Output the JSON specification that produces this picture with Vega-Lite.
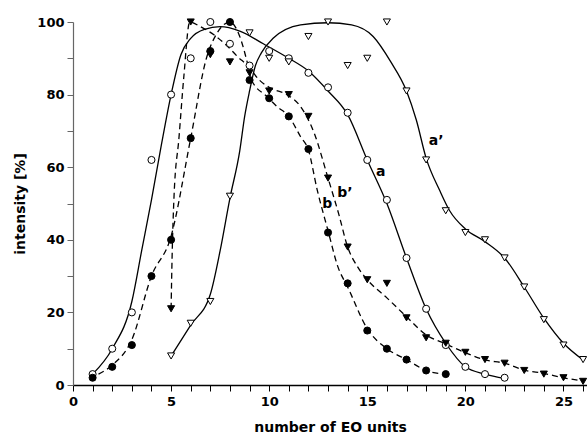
{
  "$schema": "https://vega.github.io/schema/vega-lite/v6.json",
  "width": 514,
  "height": 363,
  "autosize": "none",
  "padding": {"left": 73, "top": 22, "right": 0, "bottom": 50},
  "config": {"view": {"stroke": null}, "font": "DejaVu Sans"},
  "datasets": {
    "points": [
      {"series": "a", "x": 1, "y": 3}, {"series": "a", "x": 2, "y": 10}, {"series": "a", "x": 3, "y": 20}, {"series": "a", "x": 4, "y": 62},
      {"series": "a", "x": 5, "y": 80}, {"series": "a", "x": 6, "y": 90}, {"series": "a", "x": 7, "y": 100}, {"series": "a", "x": 8, "y": 94},
      {"series": "a", "x": 9, "y": 88}, {"series": "a", "x": 10, "y": 92}, {"series": "a", "x": 11, "y": 90}, {"series": "a", "x": 12, "y": 86},
      {"series": "a", "x": 13, "y": 82}, {"series": "a", "x": 14, "y": 75}, {"series": "a", "x": 15, "y": 62}, {"series": "a", "x": 16, "y": 51},
      {"series": "a", "x": 17, "y": 35}, {"series": "a", "x": 18, "y": 21}, {"series": "a", "x": 19, "y": 11}, {"series": "a", "x": 20, "y": 5},
      {"series": "a", "x": 21, "y": 3}, {"series": "a", "x": 22, "y": 2},
      {"series": "a'", "x": 5, "y": 8}, {"series": "a'", "x": 6, "y": 17}, {"series": "a'", "x": 7, "y": 23}, {"series": "a'", "x": 8, "y": 52},
      {"series": "a'", "x": 9, "y": 97}, {"series": "a'", "x": 10, "y": 90}, {"series": "a'", "x": 11, "y": 89}, {"series": "a'", "x": 12, "y": 96},
      {"series": "a'", "x": 13, "y": 100}, {"series": "a'", "x": 14, "y": 88}, {"series": "a'", "x": 15, "y": 90}, {"series": "a'", "x": 16, "y": 100},
      {"series": "a'", "x": 17, "y": 81}, {"series": "a'", "x": 18, "y": 62}, {"series": "a'", "x": 19, "y": 48}, {"series": "a'", "x": 20, "y": 42},
      {"series": "a'", "x": 21, "y": 40}, {"series": "a'", "x": 22, "y": 35}, {"series": "a'", "x": 23, "y": 27}, {"series": "a'", "x": 24, "y": 18},
      {"series": "a'", "x": 25, "y": 11}, {"series": "a'", "x": 26, "y": 7},
      {"series": "b", "x": 1, "y": 2}, {"series": "b", "x": 2, "y": 5}, {"series": "b", "x": 3, "y": 11}, {"series": "b", "x": 4, "y": 30},
      {"series": "b", "x": 5, "y": 40}, {"series": "b", "x": 6, "y": 68}, {"series": "b", "x": 7, "y": 92}, {"series": "b", "x": 8, "y": 100},
      {"series": "b", "x": 9, "y": 84}, {"series": "b", "x": 10, "y": 79}, {"series": "b", "x": 11, "y": 74}, {"series": "b", "x": 12, "y": 65},
      {"series": "b", "x": 13, "y": 42}, {"series": "b", "x": 14, "y": 28}, {"series": "b", "x": 15, "y": 15}, {"series": "b", "x": 16, "y": 10},
      {"series": "b", "x": 17, "y": 7}, {"series": "b", "x": 18, "y": 4}, {"series": "b", "x": 19, "y": 3},
      {"series": "b'", "x": 5, "y": 21}, {"series": "b'", "x": 6, "y": 100}, {"series": "b'", "x": 7, "y": 91}, {"series": "b'", "x": 8, "y": 89},
      {"series": "b'", "x": 9, "y": 86}, {"series": "b'", "x": 10, "y": 81}, {"series": "b'", "x": 11, "y": 80}, {"series": "b'", "x": 12, "y": 74},
      {"series": "b'", "x": 13, "y": 57}, {"series": "b'", "x": 14, "y": 38}, {"series": "b'", "x": 15, "y": 29}, {"series": "b'", "x": 16, "y": 28},
      {"series": "b'", "x": 17, "y": 18.5}, {"series": "b'", "x": 18, "y": 13}, {"series": "b'", "x": 19, "y": 11.5}, {"series": "b'", "x": 20, "y": 9},
      {"series": "b'", "x": 21, "y": 7}, {"series": "b'", "x": 22, "y": 6}, {"series": "b'", "x": 23, "y": 4}, {"series": "b'", "x": 24, "y": 3},
      {"series": "b'", "x": 25, "y": 2}, {"series": "b'", "x": 26, "y": 1}
    ],
    "curves": [
      {"series": "a", "x": 1, "y": 3}, {"series": "a", "x": 2, "y": 10}, {"series": "a", "x": 3, "y": 23}, {"series": "a", "x": 3.5, "y": 37},
      {"series": "a", "x": 4, "y": 51}, {"series": "a", "x": 4.5, "y": 66}, {"series": "a", "x": 5, "y": 80}, {"series": "a", "x": 5.5, "y": 91},
      {"series": "a", "x": 6, "y": 95.5}, {"series": "a", "x": 6.7, "y": 98}, {"series": "a", "x": 7.5, "y": 98.7}, {"series": "a", "x": 8.5, "y": 97.5},
      {"series": "a", "x": 9.7, "y": 94}, {"series": "a", "x": 11, "y": 90}, {"series": "a", "x": 12, "y": 86.5}, {"series": "a", "x": 13, "y": 81},
      {"series": "a", "x": 14, "y": 74.5}, {"series": "a", "x": 15, "y": 62}, {"series": "a", "x": 16, "y": 50}, {"series": "a", "x": 17, "y": 35},
      {"series": "a", "x": 18, "y": 21}, {"series": "a", "x": 19, "y": 11.5}, {"series": "a", "x": 20, "y": 5}, {"series": "a", "x": 21, "y": 3},
      {"series": "a", "x": 22, "y": 1.8},
      {"series": "a'", "x": 5, "y": 8}, {"series": "a'", "x": 6, "y": 16.5}, {"series": "a'", "x": 7, "y": 25}, {"series": "a'", "x": 7.5, "y": 37},
      {"series": "a'", "x": 8, "y": 51.5}, {"series": "a'", "x": 8.5, "y": 64.5}, {"series": "a'", "x": 8.75, "y": 74}, {"series": "a'", "x": 9, "y": 81},
      {"series": "a'", "x": 9.3, "y": 88}, {"series": "a'", "x": 9.6, "y": 91.5}, {"series": "a'", "x": 10.2, "y": 95.5}, {"series": "a'", "x": 11.6, "y": 99.2},
      {"series": "a'", "x": 13, "y": 99.8}, {"series": "a'", "x": 14.2, "y": 99.2}, {"series": "a'", "x": 15.3, "y": 96}, {"series": "a'", "x": 16.2, "y": 89},
      {"series": "a'", "x": 17, "y": 81}, {"series": "a'", "x": 17.5, "y": 73}, {"series": "a'", "x": 18, "y": 62.5}, {"series": "a'", "x": 18.7, "y": 53.5},
      {"series": "a'", "x": 19.2, "y": 48}, {"series": "a'", "x": 20, "y": 43}, {"series": "a'", "x": 21, "y": 39.5}, {"series": "a'", "x": 22, "y": 35},
      {"series": "a'", "x": 23, "y": 27}, {"series": "a'", "x": 24, "y": 18.4}, {"series": "a'", "x": 25, "y": 11.5}, {"series": "a'", "x": 26, "y": 6.9},
      {"series": "b", "x": 1.3, "y": 3}, {"series": "b", "x": 2, "y": 5.5}, {"series": "b", "x": 3, "y": 12.5}, {"series": "b", "x": 4, "y": 30},
      {"series": "b", "x": 5, "y": 41}, {"series": "b", "x": 6, "y": 68}, {"series": "b", "x": 6.8, "y": 90}, {"series": "b", "x": 7.35, "y": 97},
      {"series": "b", "x": 8, "y": 100}, {"series": "b", "x": 8.5, "y": 96}, {"series": "b", "x": 8.9, "y": 88.5}, {"series": "b", "x": 9.1, "y": 84},
      {"series": "b", "x": 9.9, "y": 79.4}, {"series": "b", "x": 10.4, "y": 76.7}, {"series": "b", "x": 11, "y": 74}, {"series": "b", "x": 11.6, "y": 68.4},
      {"series": "b", "x": 12, "y": 64.7}, {"series": "b", "x": 12.45, "y": 53.7}, {"series": "b", "x": 13, "y": 42.5}, {"series": "b", "x": 13.5, "y": 32.6},
      {"series": "b", "x": 14, "y": 27}, {"series": "b", "x": 15, "y": 15.5}, {"series": "b", "x": 16, "y": 10}, {"series": "b", "x": 17, "y": 7},
      {"series": "b", "x": 18, "y": 4}, {"series": "b", "x": 19, "y": 3},
      {"series": "b'", "x": 5, "y": 21}, {"series": "b'", "x": 5.05, "y": 35}, {"series": "b'", "x": 5.15, "y": 52}, {"series": "b'", "x": 5.4, "y": 68},
      {"series": "b'", "x": 5.65, "y": 85}, {"series": "b'", "x": 5.95, "y": 100}, {"series": "b'", "x": 6.5, "y": 98.7}, {"series": "b'", "x": 7.2, "y": 96.4},
      {"series": "b'", "x": 7.9, "y": 93.2}, {"series": "b'", "x": 8.4, "y": 90.4}, {"series": "b'", "x": 8.9, "y": 88}, {"series": "b'", "x": 9.5, "y": 84},
      {"series": "b'", "x": 10.1, "y": 81.7}, {"series": "b'", "x": 10.9, "y": 80}, {"series": "b'", "x": 11.6, "y": 76.7}, {"series": "b'", "x": 12.3, "y": 69.3},
      {"series": "b'", "x": 13, "y": 57}, {"series": "b'", "x": 13.55, "y": 47}, {"series": "b'", "x": 14, "y": 38}, {"series": "b'", "x": 14.5, "y": 32.6},
      {"series": "b'", "x": 15, "y": 29}, {"series": "b'", "x": 16, "y": 24}, {"series": "b'", "x": 17, "y": 18.8}, {"series": "b'", "x": 18, "y": 13.8},
      {"series": "b'", "x": 19, "y": 11.3}, {"series": "b'", "x": 20, "y": 8.9}, {"series": "b'", "x": 21, "y": 6.9}, {"series": "b'", "x": 22, "y": 6},
      {"series": "b'", "x": 23, "y": 4.1}, {"series": "b'", "x": 24, "y": 3.2}, {"series": "b'", "x": 25, "y": 2}, {"series": "b'", "x": 26, "y": 1.1}
    ],
    "labels": [
      {"text": "a’", "x": 18.51, "y": 67.2},
      {"text": "a", "x": 15.68, "y": 58.8},
      {"text": "b’", "x": 13.86, "y": 52.8},
      {"text": "b", "x": 12.96, "y": 49.9}
    ]
  },
  "encoding": {
    "x": {
      "field": "x", "type": "quantitative",
      "scale": {"domain": [0, 26.2], "nice": false, "zero": false},
      "axis": {
        "title": "number of EO units",
        "values": [0,1,2,3,4,5,6,7,8,9,10,11,12,13,14,15,16,17,18,19,20,21,22,23,24,25,26],
        "labelExpr": "datum.value % 5 === 0 ? datum.label : ''",
        "labelOverlap": false, "labelFlush": false,
        "labelFont": "DejaVu Sans", "labelFontWeight": "bold", "labelFontSize": 13, "labelColor": "black", "labelPadding": 4,
        "tickSize": 6, "tickColor": "black", "tickWidth": 1,
        "domainColor": "black", "domainWidth": 1.5,
        "grid": false,
        "titleFont": "DejaVu Sans", "titleFontSize": 14, "titleFontWeight": "bold", "titleColor": "black", "titlePadding": 12
      }
    },
    "y": {
      "field": "y", "type": "quantitative",
      "scale": {"domain": [0, 100], "nice": false},
      "axis": {
        "title": "intensity [%]",
        "values": [0,10,20,30,40,50,60,70,80,90,100],
        "labelExpr": "datum.value % 20 === 0 ? datum.label : ''",
        "labelOverlap": false, "labelFlush": false,
        "labelFont": "DejaVu Sans", "labelFontWeight": "bold", "labelFontSize": 13, "labelColor": "black", "labelPadding": 3,
        "tickSize": 6, "tickColor": "#666", "tickWidth": 1,
        "domainColor": "#666", "domainWidth": 1.2,
        "grid": false,
        "titleFont": "DejaVu Sans", "titleFontSize": 14, "titleFontWeight": "bold", "titleColor": "black", "titlePadding": 9
      }
    }
  },
  "layer": [
    {
      "data": {"name": "curves"},
      "transform": [{"filter": "datum.series === 'a' || datum.series === \"a'\""}],
      "mark": {"type": "line", "interpolate": "monotone", "color": "black", "strokeWidth": 1.3},
      "encoding": {"detail": {"field": "series"}, "order": {"field": "x", "type": "quantitative"}}
    },
    {
      "data": {"name": "curves"},
      "transform": [{"filter": "datum.series === 'b' || datum.series === \"b'\""}],
      "mark": {"type": "line", "interpolate": "monotone", "color": "black", "strokeWidth": 1.3, "strokeDash": [6, 4]},
      "encoding": {"detail": {"field": "series"}, "order": {"field": "x", "type": "quantitative"}}
    },
    {
      "data": {"name": "points"},
      "mark": {"type": "point", "filled": true, "stroke": "black", "strokeWidth": 1, "size": 50, "opacity": 1},
      "encoding": {
        "shape": {"field": "series", "type": "nominal", "scale": {"domain": ["a", "a'", "b", "b'"], "range": ["circle", "triangle-down", "circle", "triangle-down"]}, "legend": null},
        "fill": {"field": "series", "type": "nominal", "scale": {"domain": ["a", "a'", "b", "b'"], "range": ["white", "white", "black", "black"]}, "legend": null}
      }
    },
    {
      "data": {"name": "labels"},
      "mark": {"type": "text", "font": "DejaVu Sans", "fontWeight": "bold", "fontSize": 14, "color": "black", "align": "center", "baseline": "middle"},
      "encoding": {"text": {"field": "text"}}
    }
  ]
}
